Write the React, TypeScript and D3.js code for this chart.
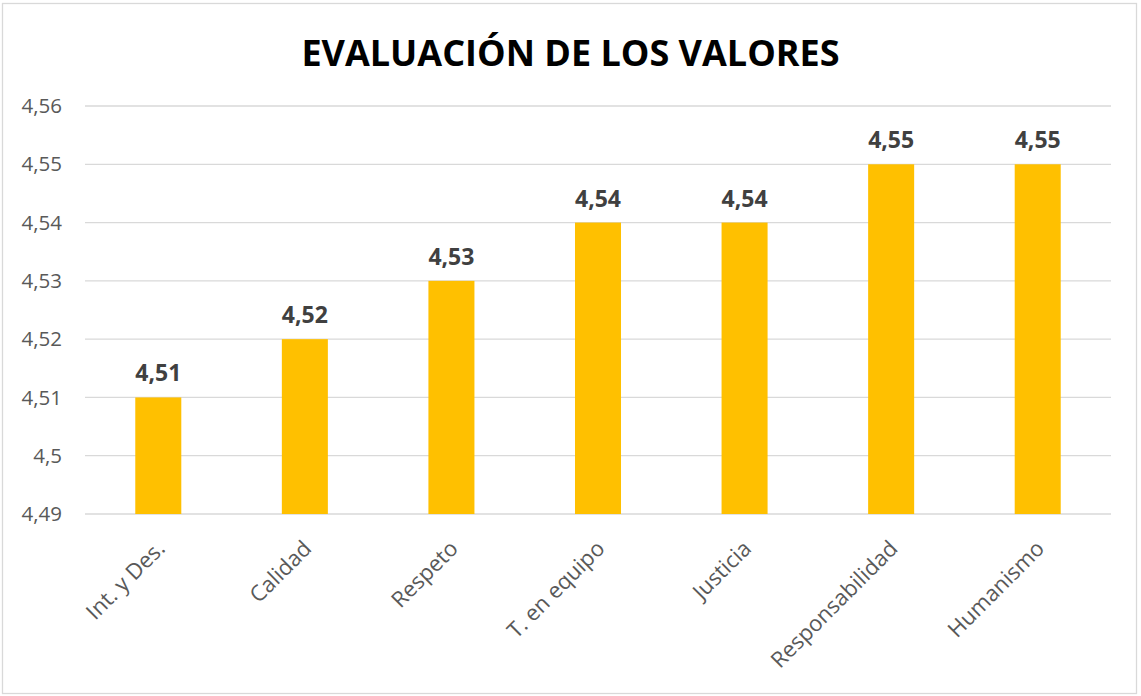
import { useEffect, useRef } from "react";
import * as d3 from "d3";

// Datos del gráfico
const categorias = [
  "Int. y Des.",
  "Calidad",
  "Respeto",
  "T. en equipo",
  "Justicia",
  "Responsabilidad",
  "Humanismo",
];
const valores = [4.51, 4.52, 4.53, 4.54, 4.54, 4.55, 4.55];
const ticksY = [4.49, 4.5, 4.51, 4.52, 4.53, 4.54, 4.55, 4.56];
const titulo = "EVALUACIÓN DE LOS VALORES";

const W = 1141;
const H = 696;
const FONT = "'Open Sans', 'Noto Sans', sans-serif";

const fmt = (v: number) => String(+v.toFixed(2)).replace(".", ",");

const App = () => {
  const ref = useRef<SVGSVGElement | null>(null);

  useEffect(() => {
    if (!ref.current) return;
    const svg = d3.select(ref.current);
    svg.selectAll("*").remove();

    const margin = { top: 106, right: 30, bottom: 182, left: 85 };
    const width = 1111 - margin.left;
    const height = 514 - margin.top;

    // Marco exterior
    svg
      .append("rect")
      .attr("x", 2.5)
      .attr("y", 3.5)
      .attr("width", 1134)
      .attr("height", 690)
      .attr("fill", "#fff")
      .attr("stroke", "#d9d9d9")
      .attr("stroke-width", 1.3);

    // Título
    svg
      .append("text")
      .attr("x", W / 2)
      .attr("y", 66)
      .attr("text-anchor", "middle")
      .style("font-family", FONT)
      .style("font-size", "36px")
      .style("font-weight", "700")
      .style("fill", "#000")
      .text(titulo);

    const g = svg
      .append("g")
      .attr("transform", `translate(${margin.left},${margin.top})`);

    const x = d3
      .scaleBand<string>()
      .domain(categorias)
      .range([0, width])
      .paddingInner(0.686)
      .paddingOuter(0.343);

    const y = d3.scaleLinear().domain([4.49, 4.56]).range([height, 0]);

    // Rejilla
    g.selectAll(".grid")
      .data(ticksY)
      .enter()
      .append("line")
      .attr("x1", 0)
      .attr("x2", width)
      .attr("y1", (d) => y(d))
      .attr("y2", (d) => y(d))
      .attr("stroke", "#d9d9d9")
      .attr("stroke-width", 1.3);

    // Etiquetas eje Y
    g.selectAll(".ytick")
      .data(ticksY)
      .enter()
      .append("text")
      .attr("x", -23)
      .attr("y", (d) => y(d))
      .attr("dy", "0.35em")
      .attr("text-anchor", "end")
      .style("font-family", FONT)
      .style("font-size", "20.5px")
      .style("fill", "#595959")
      .text((d) => fmt(d));

    // Barras
    g.selectAll(".bar")
      .data(valores)
      .enter()
      .append("rect")
      .attr("x", (_d, i) => x(categorias[i])!)
      .attr("width", x.bandwidth())
      .attr("y", (d) => y(d))
      .attr("height", (d) => height - y(d))
      .attr("fill", "#ffc000");

    // Valores sobre las barras
    g.selectAll(".val")
      .data(valores)
      .enter()
      .append("text")
      .attr("x", (_d, i) => x(categorias[i])! + x.bandwidth() / 2)
      .attr("y", (d) => y(d) - 16)
      .attr("text-anchor", "middle")
      .style("font-family", FONT)
      .style("font-size", "23px")
      .style("font-weight", "700")
      .style("fill", "#404040")
      .text((d) => fmt(d));

    // Etiquetas eje X (rotadas)
    g.selectAll(".xlab")
      .data(categorias)
      .enter()
      .append("text")
      .attr("transform", (d) => {
        const cx = x(d)! + x.bandwidth() / 2 + 8;
        return `translate(${cx},${height + 36}) rotate(-45)`;
      })
      .attr("text-anchor", "end")
      .style("font-family", FONT)
      .style("font-size", "22px")
      .style("fill", "#595959")
      .text((d) => d);
  }, []);

  return (
    <div style={{ position: "absolute", left: 0, top: 0 }}>
      <svg ref={ref} width={W} height={H} style={{ display: "block" }} />
    </div>
  );
};

export default App;
